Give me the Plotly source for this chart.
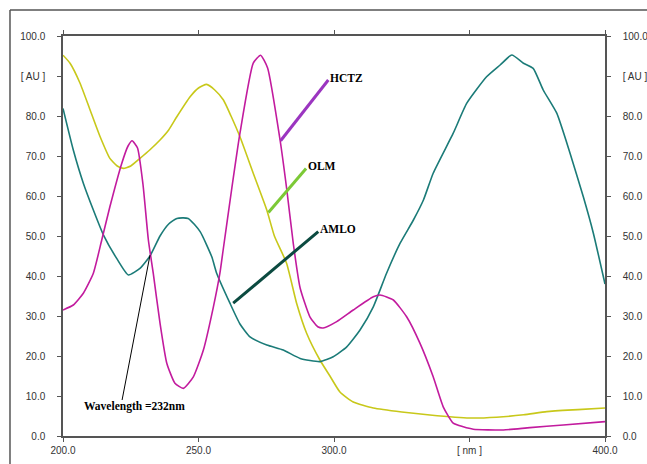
import plotly.graph_objects as go

# ---- data ----
olm_nm = [200, 202.6, 206.3, 210, 213.7, 217.3, 220, 222.3, 225, 228.4, 232, 235.8, 239, 242,
          246.9, 250, 253, 256, 259.2, 262, 265.3, 270.2, 275.2, 278, 282.5, 286.2, 289.9,
          294.8, 298.5, 302.2, 307.1, 314.5, 325, 335.4, 350, 360, 370, 378.5, 390, 400]
olm_au = [95.2, 93.2, 88.2, 81.5, 74.8, 69.4, 67.5, 66.9, 67.5, 69.4, 71.5, 74, 76.5, 79.8,
          84.8, 87, 87.9, 86.5, 84, 80, 74.8, 65.7, 56.5, 50, 43.2, 33.2, 25.7,
          19, 15, 11, 8.5, 7, 6, 5.25, 4.5, 4.7, 5.3, 6.1, 6.6, 7]

hctz_nm = [200, 203.8, 207.5, 211.2, 214.3, 217.3, 221.7, 224, 225.5, 227.5, 229.5, 231.5, 233.3,
           235.8, 238.3, 241.3, 244.4, 248.1, 251.8, 255.5, 257.9, 259.2, 262.2, 265.3, 270.2,
           272.9, 275.5, 280.1, 282.5, 285, 287.5, 291.1, 294, 296, 301, 307.1, 314.5, 317,
           321.9, 326.8, 331.7, 336.6, 340.3, 344, 347.7, 351.4, 362.5, 372.3, 384.6, 400]
hctz_au = [31.5, 32.75, 35.7, 40.7, 49, 57.3, 68.2, 72.5, 73.8, 72, 63, 49, 40.7,
           28.2, 18.2, 13.2, 11.9, 14.8, 21.5, 32.3, 40.7, 47, 61.5, 75.7, 93.2,
           95.2, 92, 74, 62, 48, 37, 29.8, 27.3, 27, 28.6, 31.5, 34.8, 35.25,
           34, 29.8, 23.2, 14.8, 7.3, 3.2, 2.3, 1.7, 1.5, 2.1, 2.75, 3.6]

amlo_nm = [200, 203.8, 207.5, 211.2, 214.9, 219.8, 224.1, 228.4, 232.1, 235.8, 239, 242, 246.2,
           250.6, 254.9, 256.7, 261.6, 265.3, 269, 275.2, 281.3, 287.5, 294.8, 299.7, 304.7,
           309.6, 314.5, 319.4, 324.4, 329.3, 333, 336.6, 344, 349, 356.3, 361.3, 365.6,
           369.9, 373.5, 377.2, 382.2, 387.1, 392, 395.7, 400]
amlo_au = [81.9, 71.5, 63.2, 56.5, 50.3, 44.4, 40.25, 41.9, 45, 50, 53, 54.4, 54.4,
           51.1, 44.8, 40.7, 33.2, 28, 24.8, 22.75, 21.5, 19.4, 18.6, 19.8, 22.3,
           26.5, 32.3, 40.7, 48.2, 54, 59, 65.7, 75.7, 83.2, 89.8, 92.75, 95.25,
           93.2, 91.9, 86.5, 80.7, 70.7, 59.8, 50.7, 38]

x_ticks = [200, 250, 300, 350, 400]
x_tick_labels = ["200.0", "250.0", "300.0", "[ nm ]", "400.0"]
y_ticks = [0, 10, 20, 30, 40, 50, 60, 70, 80, 90, 100]
y_tick_labels = ["0.0", "10.0", "20.0", "30.0", "40.0", "50.0", "60.0", "70.0", "80.0", "[ AU ]", "100.0"]

# label callouts: (name, line start x, y, line end x, y, colour)
callout_names = ["HCTZ", "OLM", "AMLO"]
callout_x0 = [280.3, 275.8, 262.8]
callout_y0 = [73.8, 55.9, 33.2]
callout_x1 = [297.9, 289.7, 294.2]
callout_y1 = [89.0, 66.9, 51.1]
callout_colors = ["#9b35c0", "#7cc936", "#0b4a40"]
wl_label = "Wavelength =232nm"
wl_x0, wl_y0, wl_x1, wl_y1 = 221.8, 9.0, 232.1, 45.2
wl_text_x, wl_text_y = 226.4, 7.5

fig = go.Figure()
fig.add_trace(go.Scatter(x=olm_nm, y=olm_au, mode="lines", line=dict(color="#c8c81a", width=1.6, shape="spline", smoothing=0.5), showlegend=False, hoverinfo="skip"))
fig.add_trace(go.Scatter(x=amlo_nm, y=amlo_au, mode="lines", line=dict(color="#1b7b78", width=1.6, shape="spline", smoothing=0.5), showlegend=False, hoverinfo="skip"))
fig.add_trace(go.Scatter(x=hctz_nm, y=hctz_au, mode="lines", line=dict(color="#c21b9e", width=1.6, shape="spline", smoothing=0.5), showlegend=False, hoverinfo="skip"))
fig.add_trace(go.Scatter(x=[None], y=[None], yaxis="y2", showlegend=False, hoverinfo="skip"))

shapes = []
annotations = []
for n, x0, y0, x1, y1, c in zip(callout_names, callout_x0, callout_y0, callout_x1, callout_y1, callout_colors):
    shapes.append(dict(type="line", xref="x", yref="y", x0=x0, y0=y0, x1=x1, y1=y1, line=dict(color=c, width=3)))
    annotations.append(dict(x=x1, y=y1 + 0.6, xref="x", yref="y", text="<b>" + n + "</b>", showarrow=False,
                            xanchor="left", yanchor="middle",
                            font=dict(family="Liberation Serif", size=11.5, color="black")))
shapes.append(dict(type="line", xref="x", yref="y", x0=wl_x0, y0=wl_y0, x1=wl_x1, y1=wl_y1, line=dict(color="black", width=1)))
annotations.append(dict(x=wl_text_x, y=wl_text_y, xref="x", yref="y", text="<b>" + wl_label + "</b>", showarrow=False,
                        xanchor="center", yanchor="middle",
                        font=dict(family="Liberation Serif", size=11.5, color="black")))
# outer frame (left and top edges visible)
shapes.append(dict(type="line", xref="paper", yref="paper", x0=-0.0978, y0=-0.1, x1=-0.0978, y1=1.065, line=dict(color="#555", width=1.5)))
shapes.append(dict(type="line", xref="paper", yref="paper", x0=-0.0978, y0=1.065, x1=1.2, y1=1.065, line=dict(color="#555", width=1.5)))

tick_font = dict(family="Liberation Sans", size=10, color="#333")
axis_common = dict(showline=True, linecolor="#555", linewidth=1.5, ticks="outside", ticklen=4,
                   tickcolor="#555", tickwidth=1.2, showgrid=False, zeroline=False, tickfont=tick_font,
                   automargin=False)

fig.update_layout(
    width=647, height=464,
    margin=dict(l=63, r=42, t=36, b=28),
    paper_bgcolor="white", plot_bgcolor="white",
    xaxis=dict(range=[200, 400], tickvals=x_ticks, ticktext=x_tick_labels, mirror="ticks", **axis_common),
    yaxis=dict(range=[0, 100], tickvals=y_ticks, ticktext=y_tick_labels, ticklabelstandoff=10, **axis_common),
    yaxis2=dict(range=[0, 100], tickvals=y_ticks, ticktext=y_tick_labels, overlaying="y", side="right",
                anchor="x", ticklabelstandoff=10, **axis_common),
    shapes=shapes, annotations=annotations,
)
fig.write_html(
    "out.html",
    config={"displayModeBar": False},
    post_script="document.body.style.margin='0';document.body.style.overflow='hidden';"
                "document.documentElement.style.overflow='hidden';",
)
